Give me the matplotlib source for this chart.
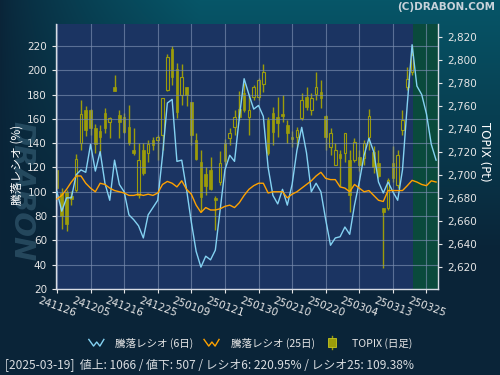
import numpy as np
import matplotlib.pyplot as plt
from matplotlib.lines import Line2D
from matplotlib.patches import Rectangle
from matplotlib.legend_handler import HandlerBase

plt.rcParams['font.family'] = ['DejaVu Sans', 'Noto Sans CJK JP']

# 日付ラベル (7営業日ごと)
tick_labels = ['241126', '241205', '241216', '241225', '250109', '250121',
               '250130', '250210', '250220', '250304', '250313', '250325']

# TOPIX 日足
topix_open = [2704, 2684, 2685, 2682, 2687, 2728, 2756, 2756, 2741, 2738,
              2754, 2746, 2776, 2752, 2750, 2742, 2722, 2683, 2722, 2719,
              2730, 2730, 2735, 2774, 2809, 2792, 2769, 2776, 2763, 2730,
              2711, 2701, 2704, 2680, 2694, 2728, 2732, 2742, 2757, 2771,
              2750, 2768, 2768, 2779, 2748, 2754, 2750, 2753, 2743, 2733,
              2733, 2749, 2768, 2756, 2770, 2772, 2751, 2724, 2709, 2718,
              2719, 2713, 2713, 2716, 2715, 2733, 2720, 2710, 2671, 2671,
              2710, 2691, 2739, 2776, 2789]
topix_high = [2704, 2689, 2687, 2686, 2718, 2765, 2760, 2757, 2744, 2743,
              2758, 2750, 2787, 2756, 2754, 2761, 2741, 2728, 2728, 2730,
              2733, 2735, 2767, 2805, 2812, 2797, 2796, 2776, 2763, 2736,
              2722, 2707, 2716, 2682, 2721, 2731, 2741, 2756, 2773, 2780,
              2770, 2778, 2784, 2796, 2750, 2759, 2768, 2769, 2748, 2738,
              2742, 2771, 2776, 2771, 2789, 2782, 2752, 2741, 2728, 2722,
              2736, 2722, 2732, 2722, 2730, 2757, 2725, 2722, 2671, 2697,
              2725, 2722, 2756, 2794, 2813]
topix_low = [2689, 2653, 2651, 2674, 2685, 2722, 2734, 2735, 2719, 2719,
             2736, 2732, 2773, 2732, 2736, 2726, 2717, 2680, 2700, 2711,
             2722, 2713, 2722, 2773, 2778, 2749, 2761, 2760, 2726, 2713,
             2668, 2683, 2687, 2652, 2691, 2709, 2726, 2735, 2748, 2755,
             2735, 2765, 2765, 2772, 2717, 2726, 2733, 2746, 2728, 2724,
             2724, 2748, 2756, 2752, 2765, 2758, 2722, 2717, 2709, 2690,
             2711, 2668, 2711, 2703, 2709, 2722, 2702, 2697, 2619, 2670,
             2694, 2689, 2735, 2774, 2787]
topix_close = [2689, 2664, 2657, 2679, 2714, 2753, 2739, 2741, 2727, 2733,
               2741, 2749, 2773, 2746, 2737, 2728, 2719, 2713, 2702, 2727,
               2726, 2733, 2767, 2802, 2785, 2755, 2785, 2769, 2735, 2714,
               2681, 2690, 2688, 2678, 2710, 2712, 2736, 2750, 2750, 2756,
               2756, 2776, 2782, 2789, 2719, 2737, 2745, 2751, 2736, 2731,
               2739, 2765, 2759, 2767, 2776, 2767, 2733, 2736, 2722, 2715,
               2736, 2683, 2729, 2709, 2728, 2751, 2707, 2699, 2668, 2696,
               2697, 2717, 2748, 2783, 2804]

# 騰落レシオ
ratio6 = [100, 84, 95, 95, 114, 118, 116, 139, 117, 133,
          107, 93, 126, 106, 100, 81, 77, 72, 62, 81,
          87, 93, 130, 173, 176, 125, 126, 102, 75, 51,
          38, 47, 44, 52, 85, 118, 130, 125, 161, 193,
          180, 168, 171, 162, 120, 97, 90, 102, 89, 106,
          134, 153, 132, 100, 107, 100, 77, 56, 62, 63,
          71, 65, 89, 108, 130, 144, 133, 108, 99, 108,
          100, 93, 118, 172, 220.95, 187, 180, 164, 139, 126]
ratio25 = [94, 97, 102, 108, 113, 113, 107, 103, 100, 107,
           106, 103, 101, 100, 99, 97, 97, 98, 97, 98,
           97, 99, 106, 108.5, 107, 104, 109, 102, 98, 89,
           83, 87, 85, 85, 86, 88, 89, 87, 91, 97,
           102, 105, 107, 107, 99, 100, 100, 100, 95, 98,
           100, 103, 106, 109, 113, 116, 111, 110, 110, 104,
           103, 100, 106, 103, 100, 101, 97, 93, 92, 101,
           101, 101, 101, 105, 109.38, 108, 106, 105, 109, 108]

olive = '#9c9c0a'
fg = '#e6e6e6'


class ZigHandler(HandlerBase):
    def create_artists(self, legend, orig, xd, yd, w, h, fontsize, trans):
        xs = np.array([0.05, 0.35, 0.55, 0.75, 1.0]) * w - xd
        ys = np.array([0.95, 0.05, 0.6, 0.05, 0.95]) * h - yd
        return [Line2D(xs, ys, color=orig.get_color(), lw=1, transform=trans)]


class CandleHandler(HandlerBase):
    def create_artists(self, legend, orig, xd, yd, w, h, fontsize, trans):
        cx = w * 0.5 - xd
        wick = Line2D([cx, cx], [-0.4 * h - yd, 1.4 * h - yd], color=olive,
                      lw=1, transform=trans)
        body = Rectangle((cx - 3, -0.1 * h - yd), 6, 1.2 * h, facecolor=olive,
                         edgecolor='#c8c820', lw=0.6, transform=trans)
        return [wick, body]


fig = plt.figure(figsize=(5, 3.75), dpi=100)

# 背景グラデーション
bg = fig.add_axes([0, 0, 1, 1], zorder=-10)
bg.axis('off')
yy, xx = np.mgrid[0:1:375j, 0:1:500j]
t = np.clip(1 - yy * 1.5, 0, 1) * np.clip(xx * 2.5, 0, 1) ** 0.7
dark = np.array([10, 36, 56]) / 255
teal = np.array([6, 86, 104]) / 255
bg.imshow(dark + (teal - dark) * t[..., None], aspect='auto',
          extent=[0, 1, 0, 1])
bg.set_xlim(0, 1)
bg.set_ylim(0, 1)

fig.text(0.042, 0.49, 'DRABON', rotation=-90, fontsize=21, fontweight='heavy',
         style='italic', color='#5a8aa2', alpha=0.35, ha='center', va='center')

ax = fig.add_axes([0.112, 0.2293, 0.764, 0.7067])
ax2 = ax.twinx()
ax.set_zorder(ax2.get_zorder() + 1)
ax.patch.set_visible(False)
ax2.patch.set_visible(True)
ax2.patch.set_facecolor('#1b3462')

idx = np.arange(len(topix_open))
o = np.array(topix_open)
c = np.array(topix_close)
up = c >= o
ax2.axvspan(74.25, 79.4, color='#0a4a3c', lw=0, zorder=0)
ax2.vlines(idx, topix_low, topix_high, color=olive, lw=1, zorder=2)
ax2.bar(idx[~up], (o - c)[~up], bottom=c[~up], width=0.55, color=olive,
        edgecolor=olive, lw=0.5, zorder=3)
ax2.bar(idx[up], np.maximum((c - o)[up], 0.6), bottom=o[up], width=0.55,
        facecolor='#1b3462', edgecolor=olive, lw=0.8, zorder=3)

ridx = np.arange(len(ratio6))
ax.plot(ridx, ratio6, color='#84d2f2', lw=1, zorder=4)
ax.plot(ridx, ratio25, color='#ffa200', lw=1, zorder=4)

ax.set_xlim(-0.2, 79.4)
ax.set_ylim(20, 238)
ax2.set_ylim(2601, 2831)
ax.set_yticks(np.arange(20, 221, 20))
ax2.set_yticks(np.arange(2620, 2821, 20))
ax2.set_yticklabels([f'{v:,}' for v in range(2620, 2821, 20)])
ax.set_xticks(np.arange(0, 78, 7))
ax.set_xticklabels(tick_labels, rotation=-20, ha='center')

ax.grid(color='#7d8fb2', lw=0.8, alpha=0.65)
for a in (ax, ax2):
    a.tick_params(colors=fg, labelsize=7.5, length=3, width=0.8)
    for s in a.spines.values():
        s.set_visible(False)
for s in ('left', 'bottom', 'right'):
    ax.spines[s].set_visible(True)
    ax.spines[s].set_color('#d8dce4')
    ax.spines[s].set_linewidth(1)
ax.tick_params(axis='x', pad=2)

fig.text(0.034, 0.56, '騰落レシオ (%)', rotation=90, ha='center', va='center',
         fontsize=8.5, color='white', family=['Noto Sans CJK JP'])
fig.text(0.97, 0.595, 'TOPIX (Pt)', rotation=270, ha='center', va='center',
         fontsize=8.5, color='white', family=['DejaVu Sans'])

fig.text(0.99, 0.982, '(C)DRABON.COM', ha='right', va='center', fontsize=7.5,
         fontweight='bold', color='#c8d2da')

h6 = Line2D([], [], color='#84d2f2')
h25 = Line2D([], [], color='#ffa200')
hc = Line2D([], [], color=olive)
fig.legend([h6, h25, hc], ['騰落レシオ (6日)', '騰落レシオ (25日)', 'TOPIX (日足)'],
           loc='center', bbox_to_anchor=(0.5, 1 - 343 / 375), ncol=3,
           frameon=False, labelcolor=fg, handlelength=1.5, columnspacing=0.9,
           handletextpad=1.1,
           prop={'family': ['Noto Sans CJK JP'], 'size': 7.6},
           handler_map={h6: ZigHandler(), h25: ZigHandler(), hc: CandleHandler()})

fig.text(0.01, 1 - 366 / 375,
         '[2025-03-19]  値上: 1066 / 値下: 507 / レシオ6: 220.95% / レシオ25: 109.38%',
         ha='left', va='center', fontsize=8.6, color='#d8dce0',
         family=['Noto Sans CJK JP', 'DejaVu Sans'])

fig.savefig('out.png', dpi=100)
